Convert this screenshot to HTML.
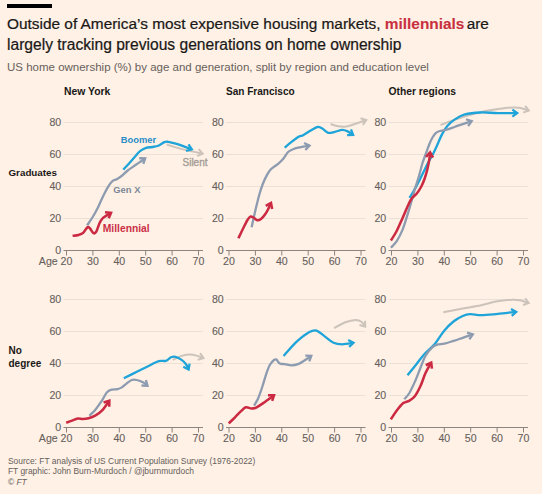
<!DOCTYPE html>
<html><head><meta charset="utf-8"><style>
html,body{margin:0;padding:0;background:#fff1e5;}
body{width:542px;height:494px;overflow:hidden;position:relative;font-family:"Liberation Sans",sans-serif;}
svg{position:absolute;left:0;top:0;}
.yl{font-family:"Liberation Sans",sans-serif;font-size:10.6px;fill:#66605c;stroke:#66605c;stroke-width:0.1px;}
.t{font-family:"Liberation Sans",sans-serif;}
</style></head><body>
<svg width="542" height="494" viewBox="0 0 542 494">
<rect x="0" y="0" width="542" height="494" fill="#fff1e5"/>
<rect x="7" y="4" width="45" height="4" fill="#000"/>
<text x="7" y="29.2" class="t" font-size="15.4" fill="#1a1817" stroke="#1a1817" stroke-width="0.22">Outside of America’s most expensive housing markets, <tspan font-weight="bold" fill="#c9303f" stroke="#c9303f" stroke-width="0.1">millennials</tspan><tspan dx="-2"> are</tspan></text>
<text x="7" y="49.6" class="t" font-size="15.6" fill="#1a1817" stroke="#1a1817" stroke-width="0.22">largely tracking previous generations on home ownership</text>
<text x="7" y="70.6" class="t" font-size="11.5" fill="#66605c">US home ownership (%) by age and generation, split by region and education level</text>
<text x="64" y="95" class="t" font-size="10.4" font-weight="bold" fill="#1a1817">New York</text>
<text x="226" y="95" class="t" font-size="10.05" font-weight="bold" fill="#1a1817">San Francisco</text>
<text x="388.5" y="95" class="t" font-size="10.3" font-weight="bold" fill="#1a1817">Other regions</text>
<text x="8.5" y="176.1" class="t" font-size="9.8" font-weight="bold" fill="#1a1817">Graduates</text>
<text x="8.5" y="353.7" class="t" font-size="10" font-weight="bold" fill="#1a1817">No</text>
<text x="8.5" y="366.6" class="t" font-size="10" font-weight="bold" fill="#1a1817">degree</text>
<line x1="63.5" x2="203" y1="218.5" y2="218.5" stroke="#ebe0d6" stroke-width="1"/>
<text x="61.2" y="222.1" text-anchor="end" class="yl">20</text>
<line x1="63.5" x2="203" y1="186.5" y2="186.5" stroke="#ebe0d6" stroke-width="1"/>
<text x="61.2" y="190.1" text-anchor="end" class="yl">40</text>
<line x1="63.5" x2="203" y1="154.5" y2="154.5" stroke="#ebe0d6" stroke-width="1"/>
<text x="61.2" y="158.1" text-anchor="end" class="yl">60</text>
<line x1="63.5" x2="203" y1="122.5" y2="122.5" stroke="#ebe0d6" stroke-width="1"/>
<text x="61.2" y="126.1" text-anchor="end" class="yl">80</text>
<line x1="63.5" x2="203" y1="250.5" y2="250.5" stroke="#8b847f" stroke-width="1"/>
<text x="61.2" y="254.1" text-anchor="end" class="yl">0</text>
<line x1="66.5" x2="66.5" y1="250.5" y2="255.5" stroke="#8b847f" stroke-width="1"/>
<text x="72.4" y="264.5" text-anchor="end" class="yl">Age 20</text>
<line x1="92.9" x2="92.9" y1="250.5" y2="255.5" stroke="#8b847f" stroke-width="1"/>
<text x="92.9" y="264.5" text-anchor="middle" class="yl">30</text>
<line x1="119.3" x2="119.3" y1="250.5" y2="255.5" stroke="#8b847f" stroke-width="1"/>
<text x="119.3" y="264.5" text-anchor="middle" class="yl">40</text>
<line x1="145.7" x2="145.7" y1="250.5" y2="255.5" stroke="#8b847f" stroke-width="1"/>
<text x="145.7" y="264.5" text-anchor="middle" class="yl">50</text>
<line x1="172.1" x2="172.1" y1="250.5" y2="255.5" stroke="#8b847f" stroke-width="1"/>
<text x="172.1" y="264.5" text-anchor="middle" class="yl">60</text>
<line x1="198.5" x2="198.5" y1="250.5" y2="255.5" stroke="#8b847f" stroke-width="1"/>
<text x="198.5" y="264.5" text-anchor="middle" class="yl">70</text>
<line x1="63.5" x2="203" y1="395.5" y2="395.5" stroke="#ebe0d6" stroke-width="1"/>
<text x="61.2" y="399.1" text-anchor="end" class="yl">20</text>
<line x1="63.5" x2="203" y1="363.5" y2="363.5" stroke="#ebe0d6" stroke-width="1"/>
<text x="61.2" y="367.1" text-anchor="end" class="yl">40</text>
<line x1="63.5" x2="203" y1="331.5" y2="331.5" stroke="#ebe0d6" stroke-width="1"/>
<text x="61.2" y="335.1" text-anchor="end" class="yl">60</text>
<line x1="63.5" x2="203" y1="299.5" y2="299.5" stroke="#ebe0d6" stroke-width="1"/>
<text x="61.2" y="303.1" text-anchor="end" class="yl">80</text>
<line x1="63.5" x2="203" y1="427.5" y2="427.5" stroke="#8b847f" stroke-width="1"/>
<text x="61.2" y="431.1" text-anchor="end" class="yl">0</text>
<line x1="66.5" x2="66.5" y1="427.5" y2="432.5" stroke="#8b847f" stroke-width="1"/>
<text x="72.4" y="441.5" text-anchor="end" class="yl">Age 20</text>
<line x1="92.9" x2="92.9" y1="427.5" y2="432.5" stroke="#8b847f" stroke-width="1"/>
<text x="92.9" y="441.5" text-anchor="middle" class="yl">30</text>
<line x1="119.3" x2="119.3" y1="427.5" y2="432.5" stroke="#8b847f" stroke-width="1"/>
<text x="119.3" y="441.5" text-anchor="middle" class="yl">40</text>
<line x1="145.7" x2="145.7" y1="427.5" y2="432.5" stroke="#8b847f" stroke-width="1"/>
<text x="145.7" y="441.5" text-anchor="middle" class="yl">50</text>
<line x1="172.1" x2="172.1" y1="427.5" y2="432.5" stroke="#8b847f" stroke-width="1"/>
<text x="172.1" y="441.5" text-anchor="middle" class="yl">60</text>
<line x1="198.5" x2="198.5" y1="427.5" y2="432.5" stroke="#8b847f" stroke-width="1"/>
<text x="198.5" y="441.5" text-anchor="middle" class="yl">70</text>
<line x1="226" x2="365.5" y1="218.5" y2="218.5" stroke="#ebe0d6" stroke-width="1"/>
<text x="223.7" y="222.1" text-anchor="end" class="yl">20</text>
<line x1="226" x2="365.5" y1="186.5" y2="186.5" stroke="#ebe0d6" stroke-width="1"/>
<text x="223.7" y="190.1" text-anchor="end" class="yl">40</text>
<line x1="226" x2="365.5" y1="154.5" y2="154.5" stroke="#ebe0d6" stroke-width="1"/>
<text x="223.7" y="158.1" text-anchor="end" class="yl">60</text>
<line x1="226" x2="365.5" y1="122.5" y2="122.5" stroke="#ebe0d6" stroke-width="1"/>
<text x="223.7" y="126.1" text-anchor="end" class="yl">80</text>
<line x1="226" x2="365.5" y1="250.5" y2="250.5" stroke="#8b847f" stroke-width="1"/>
<text x="223.7" y="254.1" text-anchor="end" class="yl">0</text>
<line x1="229" x2="229" y1="250.5" y2="255.5" stroke="#8b847f" stroke-width="1"/>
<text x="229" y="264.5" text-anchor="middle" class="yl">20</text>
<line x1="255.4" x2="255.4" y1="250.5" y2="255.5" stroke="#8b847f" stroke-width="1"/>
<text x="255.4" y="264.5" text-anchor="middle" class="yl">30</text>
<line x1="281.8" x2="281.8" y1="250.5" y2="255.5" stroke="#8b847f" stroke-width="1"/>
<text x="281.8" y="264.5" text-anchor="middle" class="yl">40</text>
<line x1="308.2" x2="308.2" y1="250.5" y2="255.5" stroke="#8b847f" stroke-width="1"/>
<text x="308.2" y="264.5" text-anchor="middle" class="yl">50</text>
<line x1="334.6" x2="334.6" y1="250.5" y2="255.5" stroke="#8b847f" stroke-width="1"/>
<text x="334.6" y="264.5" text-anchor="middle" class="yl">60</text>
<line x1="361" x2="361" y1="250.5" y2="255.5" stroke="#8b847f" stroke-width="1"/>
<text x="361" y="264.5" text-anchor="middle" class="yl">70</text>
<line x1="226" x2="365.5" y1="395.5" y2="395.5" stroke="#ebe0d6" stroke-width="1"/>
<text x="223.7" y="399.1" text-anchor="end" class="yl">20</text>
<line x1="226" x2="365.5" y1="363.5" y2="363.5" stroke="#ebe0d6" stroke-width="1"/>
<text x="223.7" y="367.1" text-anchor="end" class="yl">40</text>
<line x1="226" x2="365.5" y1="331.5" y2="331.5" stroke="#ebe0d6" stroke-width="1"/>
<text x="223.7" y="335.1" text-anchor="end" class="yl">60</text>
<line x1="226" x2="365.5" y1="299.5" y2="299.5" stroke="#ebe0d6" stroke-width="1"/>
<text x="223.7" y="303.1" text-anchor="end" class="yl">80</text>
<line x1="226" x2="365.5" y1="427.5" y2="427.5" stroke="#8b847f" stroke-width="1"/>
<text x="223.7" y="431.1" text-anchor="end" class="yl">0</text>
<line x1="229" x2="229" y1="427.5" y2="432.5" stroke="#8b847f" stroke-width="1"/>
<text x="229" y="441.5" text-anchor="middle" class="yl">20</text>
<line x1="255.4" x2="255.4" y1="427.5" y2="432.5" stroke="#8b847f" stroke-width="1"/>
<text x="255.4" y="441.5" text-anchor="middle" class="yl">30</text>
<line x1="281.8" x2="281.8" y1="427.5" y2="432.5" stroke="#8b847f" stroke-width="1"/>
<text x="281.8" y="441.5" text-anchor="middle" class="yl">40</text>
<line x1="308.2" x2="308.2" y1="427.5" y2="432.5" stroke="#8b847f" stroke-width="1"/>
<text x="308.2" y="441.5" text-anchor="middle" class="yl">50</text>
<line x1="334.6" x2="334.6" y1="427.5" y2="432.5" stroke="#8b847f" stroke-width="1"/>
<text x="334.6" y="441.5" text-anchor="middle" class="yl">60</text>
<line x1="361" x2="361" y1="427.5" y2="432.5" stroke="#8b847f" stroke-width="1"/>
<text x="361" y="441.5" text-anchor="middle" class="yl">70</text>
<line x1="388.5" x2="528" y1="218.5" y2="218.5" stroke="#ebe0d6" stroke-width="1"/>
<text x="386.2" y="222.1" text-anchor="end" class="yl">20</text>
<line x1="388.5" x2="528" y1="186.5" y2="186.5" stroke="#ebe0d6" stroke-width="1"/>
<text x="386.2" y="190.1" text-anchor="end" class="yl">40</text>
<line x1="388.5" x2="528" y1="154.5" y2="154.5" stroke="#ebe0d6" stroke-width="1"/>
<text x="386.2" y="158.1" text-anchor="end" class="yl">60</text>
<line x1="388.5" x2="528" y1="122.5" y2="122.5" stroke="#ebe0d6" stroke-width="1"/>
<text x="386.2" y="126.1" text-anchor="end" class="yl">80</text>
<line x1="388.5" x2="528" y1="250.5" y2="250.5" stroke="#8b847f" stroke-width="1"/>
<text x="386.2" y="254.1" text-anchor="end" class="yl">0</text>
<line x1="391.5" x2="391.5" y1="250.5" y2="255.5" stroke="#8b847f" stroke-width="1"/>
<text x="391.5" y="264.5" text-anchor="middle" class="yl">20</text>
<line x1="417.9" x2="417.9" y1="250.5" y2="255.5" stroke="#8b847f" stroke-width="1"/>
<text x="417.9" y="264.5" text-anchor="middle" class="yl">30</text>
<line x1="444.3" x2="444.3" y1="250.5" y2="255.5" stroke="#8b847f" stroke-width="1"/>
<text x="444.3" y="264.5" text-anchor="middle" class="yl">40</text>
<line x1="470.7" x2="470.7" y1="250.5" y2="255.5" stroke="#8b847f" stroke-width="1"/>
<text x="470.7" y="264.5" text-anchor="middle" class="yl">50</text>
<line x1="497.1" x2="497.1" y1="250.5" y2="255.5" stroke="#8b847f" stroke-width="1"/>
<text x="497.1" y="264.5" text-anchor="middle" class="yl">60</text>
<line x1="523.5" x2="523.5" y1="250.5" y2="255.5" stroke="#8b847f" stroke-width="1"/>
<text x="523.5" y="264.5" text-anchor="middle" class="yl">70</text>
<line x1="388.5" x2="528" y1="395.5" y2="395.5" stroke="#ebe0d6" stroke-width="1"/>
<text x="386.2" y="399.1" text-anchor="end" class="yl">20</text>
<line x1="388.5" x2="528" y1="363.5" y2="363.5" stroke="#ebe0d6" stroke-width="1"/>
<text x="386.2" y="367.1" text-anchor="end" class="yl">40</text>
<line x1="388.5" x2="528" y1="331.5" y2="331.5" stroke="#ebe0d6" stroke-width="1"/>
<text x="386.2" y="335.1" text-anchor="end" class="yl">60</text>
<line x1="388.5" x2="528" y1="299.5" y2="299.5" stroke="#ebe0d6" stroke-width="1"/>
<text x="386.2" y="303.1" text-anchor="end" class="yl">80</text>
<line x1="388.5" x2="528" y1="427.5" y2="427.5" stroke="#8b847f" stroke-width="1"/>
<text x="386.2" y="431.1" text-anchor="end" class="yl">0</text>
<line x1="391.5" x2="391.5" y1="427.5" y2="432.5" stroke="#8b847f" stroke-width="1"/>
<text x="391.5" y="441.5" text-anchor="middle" class="yl">20</text>
<line x1="417.9" x2="417.9" y1="427.5" y2="432.5" stroke="#8b847f" stroke-width="1"/>
<text x="417.9" y="441.5" text-anchor="middle" class="yl">30</text>
<line x1="444.3" x2="444.3" y1="427.5" y2="432.5" stroke="#8b847f" stroke-width="1"/>
<text x="444.3" y="441.5" text-anchor="middle" class="yl">40</text>
<line x1="470.7" x2="470.7" y1="427.5" y2="432.5" stroke="#8b847f" stroke-width="1"/>
<text x="470.7" y="441.5" text-anchor="middle" class="yl">50</text>
<line x1="497.1" x2="497.1" y1="427.5" y2="432.5" stroke="#8b847f" stroke-width="1"/>
<text x="497.1" y="441.5" text-anchor="middle" class="yl">60</text>
<line x1="523.5" x2="523.5" y1="427.5" y2="432.5" stroke="#8b847f" stroke-width="1"/>
<text x="523.5" y="441.5" text-anchor="middle" class="yl">70</text>
<path d="M166.8,144.5 C168.42,145.02 172.85,146.58 176.5,147.6 C180.15,148.62 184.33,149.58 188.7,150.6 C193.07,151.62 200.37,153.18 202.7,153.7" fill="none" stroke="#ccc3bb" stroke-width="2.0" stroke-linecap="butt" stroke-linejoin="round"/>
<path d="M198.72,149.21 L202.7,153.7 L197.2,156.09" fill="none" stroke="#ccc3bb" stroke-width="2.0" stroke-linecap="butt" stroke-linejoin="miter" stroke-miterlimit="10"/>
<path d="M123.3,169.6 C124.33,168.48 127.38,165.25 129.5,162.9 C131.62,160.55 134.25,157.45 136,155.5 C137.75,153.55 138.32,152.47 140,151.2 C141.68,149.93 144.07,148.6 146.1,147.9 C148.13,147.2 150.17,147.37 152.2,147 C154.23,146.63 156.27,146.52 158.3,145.7 C160.33,144.88 162.78,142.75 164.4,142.1 C166.02,141.45 165.98,141.5 168,141.8 C170.02,142.1 173.87,143.13 176.5,143.9 C179.13,144.67 181.25,145.48 183.8,146.4 C186.35,147.32 190.47,148.9 191.8,149.4" fill="none" stroke="#1ea4d9" stroke-width="2.3" stroke-linecap="butt" stroke-linejoin="round"/>
<path d="M188.49,144.39 L191.8,149.4 L186.02,151" fill="none" stroke="#1ea4d9" stroke-width="2.3" stroke-linecap="butt" stroke-linejoin="miter" stroke-miterlimit="10"/>
<path d="M87.1,225.4 C88.03,224 90.85,220.08 92.7,217 C94.55,213.92 96.37,210.58 98.2,206.9 C100.03,203.22 101.85,198.58 103.7,194.9 C105.55,191.22 107.75,187.17 109.3,184.8 C110.85,182.43 111.77,181.63 113,180.7 C114.23,179.77 115.17,180.07 116.7,179.2 C118.23,178.33 120.37,176.95 122.2,175.5 C124.03,174.05 125.87,171.98 127.7,170.5 C129.53,169.02 131.37,167.87 133.2,166.6 C135.03,165.33 136.7,164.28 138.7,162.9 C140.7,161.52 144.12,159.07 145.2,158.3" fill="none" stroke="#8d9bb0" stroke-width="2.3" stroke-linecap="butt" stroke-linejoin="round"/>
<path d="M139.2,158.23 L145.2,158.3 L143.28,163.98" fill="none" stroke="#8d9bb0" stroke-width="2.3" stroke-linecap="butt" stroke-linejoin="miter" stroke-miterlimit="10"/>
<path d="M72.6,235.8 C73.58,235.65 76.75,235.38 78.5,234.9 C80.25,234.42 81.62,234.17 83.1,232.9 C84.58,231.63 86.25,228.03 87.4,227.3 C88.55,226.57 88.98,227.52 90,228.5 C91.02,229.48 92.45,232.68 93.5,233.2 C94.55,233.72 95.28,233.3 96.3,231.6 C97.32,229.9 98.5,225.27 99.6,223 C100.7,220.73 101.77,219.23 102.9,218 C104.03,216.77 105.05,216.47 106.4,215.6 C107.75,214.73 110.23,213.27 111,212.8" fill="none" stroke="#cb2a42" stroke-width="2.55" stroke-linecap="butt" stroke-linejoin="round"/>
<path d="M105.02,212.31 L111,212.8 L108.69,218.34" fill="none" stroke="#cb2a42" stroke-width="2.55" stroke-linecap="butt" stroke-linejoin="miter" stroke-miterlimit="10"/>
<path d="M330.6,124 C331.85,124.38 335.47,125.87 338.1,126.3 C340.73,126.73 343.63,126.98 346.4,126.6 C349.17,126.22 351.38,125.1 354.7,124 C358.02,122.9 364.37,120.67 366.3,120" fill="none" stroke="#ccc3bb" stroke-width="2.0" stroke-linecap="butt" stroke-linejoin="round"/>
<path d="M360.56,118.25 L366.3,120 L362.86,124.92" fill="none" stroke="#ccc3bb" stroke-width="2.0" stroke-linecap="butt" stroke-linejoin="miter" stroke-miterlimit="10"/>
<path d="M284.6,147.7 C285.77,146.73 289.18,143.75 291.6,141.9 C294.02,140.05 297.17,137.72 299.1,136.6 C301.03,135.48 301.4,136.12 303.2,135.2 C305,134.28 307.53,132.47 309.9,131.1 C312.27,129.73 315.33,127.42 317.4,127 C319.47,126.58 320.5,127.63 322.3,128.6 C324.1,129.57 326.12,132.25 328.2,132.8 C330.28,133.35 332.45,132.38 334.8,131.9 C337.15,131.42 340.08,129.95 342.3,129.9 C344.52,129.85 346.3,130.77 348.1,131.6 C349.9,132.43 352.27,134.35 353.1,134.9" fill="none" stroke="#1ea4d9" stroke-width="2.3" stroke-linecap="butt" stroke-linejoin="round"/>
<path d="M350.99,129.28 L353.1,134.9 L347.11,135.17" fill="none" stroke="#1ea4d9" stroke-width="2.3" stroke-linecap="butt" stroke-linejoin="miter" stroke-miterlimit="10"/>
<path d="M251.6,227.2 C252.23,224.37 254.08,215.73 255.4,210.2 C256.72,204.67 258.27,198.37 259.5,194 C260.73,189.63 261.57,187.15 262.8,184 C264.03,180.85 265.52,177.6 266.9,175.1 C268.28,172.6 269.28,170.83 271.1,169 C272.92,167.17 275.77,165.82 277.8,164.1 C279.83,162.38 281.58,160.72 283.3,158.7 C285.02,156.68 286.38,153.62 288.1,152 C289.82,150.38 291.62,149.78 293.6,149 C295.58,148.22 297.35,147.87 300,147.3 C302.65,146.73 307.92,145.88 309.5,145.6" fill="none" stroke="#8d9bb0" stroke-width="2.3" stroke-linecap="butt" stroke-linejoin="round"/>
<path d="M304.1,142.98 L309.5,145.6 L305.34,149.93" fill="none" stroke="#8d9bb0" stroke-width="2.3" stroke-linecap="butt" stroke-linejoin="miter" stroke-miterlimit="10"/>
<path d="M238.4,238.3 C239.28,236.45 242.18,230.25 243.7,227.2 C245.22,224.15 246.4,221.77 247.5,220 C248.6,218.23 249.3,217.02 250.3,216.6 C251.3,216.18 252.38,216.9 253.5,217.5 C254.62,218.1 255.75,219.95 257,220.2 C258.25,220.45 259.67,219.95 261,219 C262.33,218.05 263.83,216.08 265,214.5 C266.17,212.92 267,211.42 268,209.5 C269,207.58 270.5,204.08 271,203" fill="none" stroke="#cb2a42" stroke-width="2.55" stroke-linecap="butt" stroke-linejoin="round"/>
<path d="M265.76,205.93 L271,203 L272.17,208.89" fill="none" stroke="#cb2a42" stroke-width="2.55" stroke-linecap="butt" stroke-linejoin="miter" stroke-miterlimit="10"/>
<path d="M440.5,125.1 C442.62,124.3 448.5,121.92 453.2,120.3 C457.9,118.68 462.88,117.02 468.7,115.4 C474.52,113.78 481.63,111.88 488.1,110.6 C494.57,109.32 502.33,108.18 507.5,107.7 C512.67,107.22 515.55,107.22 519.1,107.7 C522.65,108.18 527.18,110.12 528.8,110.6" fill="none" stroke="#ccc3bb" stroke-width="2.0" stroke-linecap="butt" stroke-linejoin="round"/>
<path d="M525.16,105.83 L528.8,110.6 L523.14,112.59" fill="none" stroke="#ccc3bb" stroke-width="2.0" stroke-linecap="butt" stroke-linejoin="miter" stroke-miterlimit="10"/>
<path d="M409.5,197.9 C410,197.08 411.3,195.05 412.5,193 C413.7,190.95 415.07,188.68 416.7,185.6 C418.33,182.52 420.45,178.2 422.3,174.5 C424.15,170.8 425.95,166.93 427.8,163.4 C429.65,159.87 431.9,156.2 433.4,153.3 C434.9,150.4 435.37,149.15 436.8,146 C438.23,142.85 440.28,137.7 442,134.4 C443.72,131.1 445.02,128.67 447.1,126.2 C449.18,123.73 451.53,121.57 454.5,119.6 C457.47,117.63 460.58,115.58 464.9,114.4 C469.22,113.22 474.92,112.72 480.4,112.5 C485.88,112.28 491.67,113 497.8,113.1 C503.93,113.2 513.97,113.1 517.2,113.1" fill="none" stroke="#1ea4d9" stroke-width="2.3" stroke-linecap="butt" stroke-linejoin="round"/>
<path d="M512.35,109.57 L517.2,113.1 L512.35,116.63" fill="none" stroke="#1ea4d9" stroke-width="2.3" stroke-linecap="butt" stroke-linejoin="miter" stroke-miterlimit="10"/>
<path d="M390.9,247.8 C391.87,246.7 394.75,244.23 396.7,241.2 C398.65,238.17 400.88,233.73 402.6,229.6 C404.32,225.47 405.55,221.02 407,216.4 C408.45,211.78 409.97,206.52 411.3,201.9 C412.63,197.28 413.72,193.02 415,188.7 C416.28,184.38 417.75,180.28 419,176 C420.25,171.72 421.25,167 422.5,163 C423.75,159 425.35,155.17 426.5,152 C427.65,148.83 428.4,146.42 429.4,144 C430.4,141.58 431.4,139.35 432.5,137.5 C433.6,135.65 434.78,133.98 436,132.9 C437.22,131.82 438.18,131.5 439.8,131 C441.42,130.5 443.25,130.57 445.7,129.9 C448.15,129.23 451.3,128.1 454.5,127 C457.7,125.9 462.03,124.27 464.9,123.3 C467.77,122.33 470.57,121.55 471.7,121.2" fill="none" stroke="#8d9bb0" stroke-width="2.3" stroke-linecap="butt" stroke-linejoin="round"/>
<path d="M466.02,119.26 L471.7,121.2 L468.1,126" fill="none" stroke="#8d9bb0" stroke-width="2.3" stroke-linecap="butt" stroke-linejoin="miter" stroke-miterlimit="10"/>
<path d="M390.9,240.5 C391.87,238.92 394.75,234.77 396.7,231 C398.65,227.23 400.88,221.78 402.6,217.9 C404.32,214.02 405.57,210.82 407,207.7 C408.43,204.58 409.53,201.62 411.2,199.2 C412.87,196.78 415.32,195.32 417,193.2 C418.68,191.08 420.05,188.87 421.3,186.5 C422.55,184.13 423.5,181.83 424.5,179 C425.5,176.17 426.5,172.75 427.3,169.5 C428.1,166.25 428.83,162.33 429.3,159.5 C429.77,156.67 429.97,153.67 430.1,152.5" fill="none" stroke="#cb2a42" stroke-width="2.55" stroke-linecap="butt" stroke-linejoin="round"/>
<path d="M426.04,156.92 L430.1,152.5 L433.05,157.72" fill="none" stroke="#cb2a42" stroke-width="2.55" stroke-linecap="butt" stroke-linejoin="miter" stroke-miterlimit="10"/>
<path d="M172.8,359.9 C174.27,359.23 178.67,356.78 181.6,355.9 C184.53,355.02 187.77,354.6 190.4,354.6 C193.03,354.6 195.22,355.32 197.4,355.9 C199.58,356.48 202.48,357.73 203.5,358.1" fill="none" stroke="#ccc3bb" stroke-width="2.0" stroke-linecap="butt" stroke-linejoin="round"/>
<path d="M200.13,353.14 L203.5,358.1 L197.74,359.77" fill="none" stroke="#ccc3bb" stroke-width="2.0" stroke-linecap="butt" stroke-linejoin="miter" stroke-miterlimit="10"/>
<path d="M123.8,378.3 C126.13,377.13 133.42,373.48 137.8,371.3 C142.18,369.12 146.6,366.9 150.1,365.2 C153.6,363.5 156.18,361.83 158.8,361.1 C161.42,360.37 163.75,361.43 165.8,360.8 C167.85,360.17 169.48,357.95 171.1,357.3 C172.72,356.65 173.75,356.47 175.5,356.9 C177.25,357.33 179.85,358.67 181.6,359.9 C183.35,361.13 184.83,362.7 186,364.3 C187.17,365.9 188.17,368.63 188.6,369.5" fill="none" stroke="#1ea4d9" stroke-width="2.3" stroke-linecap="butt" stroke-linejoin="round"/>
<path d="M189.58,363.58 L188.6,369.5 L183.27,366.74" fill="none" stroke="#1ea4d9" stroke-width="2.3" stroke-linecap="butt" stroke-linejoin="miter" stroke-miterlimit="10"/>
<path d="M89.4,415.7 C90.37,414.73 93.12,412.4 95.2,409.9 C97.28,407.4 99.97,403.62 101.9,400.7 C103.83,397.78 105.15,394.25 106.8,392.4 C108.45,390.55 110,390.15 111.8,389.6 C113.6,389.05 115.93,389.47 117.6,389.1 C119.27,388.73 120.27,388.37 121.8,387.4 C123.33,386.43 125.15,384.53 126.8,383.3 C128.45,382.07 130.05,380.55 131.7,380 C133.35,379.45 134.75,379.58 136.7,380 C138.65,380.42 141.6,381.53 143.4,382.5 C145.2,383.47 146.82,385.25 147.5,385.8" fill="none" stroke="#8d9bb0" stroke-width="2.3" stroke-linecap="butt" stroke-linejoin="round"/>
<path d="M145.93,380.01 L147.5,385.8 L141.51,385.5" fill="none" stroke="#8d9bb0" stroke-width="2.3" stroke-linecap="butt" stroke-linejoin="miter" stroke-miterlimit="10"/>
<path d="M66.2,422.8 C67.17,422.43 70.07,421.32 72,420.6 C73.93,419.88 76,418.77 77.8,418.5 C79.6,418.23 81,419.05 82.8,419 C84.6,418.95 86.53,418.75 88.6,418.2 C90.67,417.65 92.98,416.95 95.2,415.7 C97.42,414.45 99.55,413.2 101.9,410.7 C104.25,408.2 108.07,402.37 109.3,400.7" fill="none" stroke="#cb2a42" stroke-width="2.55" stroke-linecap="butt" stroke-linejoin="round"/>
<path d="M103.58,402.5 L109.3,400.7 L109.25,406.7" fill="none" stroke="#cb2a42" stroke-width="2.55" stroke-linecap="butt" stroke-linejoin="miter" stroke-miterlimit="10"/>
<path d="M334.1,328.2 C335.97,327.22 341.73,323.68 345.3,322.3 C348.87,320.92 352.82,320 355.5,319.9 C358.18,319.8 359.78,320.57 361.4,321.7 C363.02,322.83 364.57,325.87 365.2,326.7" fill="none" stroke="#ccc3bb" stroke-width="2.0" stroke-linecap="butt" stroke-linejoin="round"/>
<path d="M365.07,320.7 L365.2,326.7 L359.46,324.97" fill="none" stroke="#ccc3bb" stroke-width="2.0" stroke-linecap="butt" stroke-linejoin="miter" stroke-miterlimit="10"/>
<path d="M283.6,356 C285.57,353.8 291.48,346.57 295.4,342.8 C299.32,339.03 303.68,335.45 307.1,333.4 C310.52,331.35 312.97,330 315.9,330.5 C318.83,331 321.77,334.35 324.7,336.4 C327.63,338.45 330.57,341.48 333.5,342.8 C336.43,344.12 338.97,344.3 342.3,344.3 C345.63,344.3 351.63,343.05 353.5,342.8" fill="none" stroke="#1ea4d9" stroke-width="2.3" stroke-linecap="butt" stroke-linejoin="round"/>
<path d="M348.22,339.95 L353.5,342.8 L349.16,346.94" fill="none" stroke="#1ea4d9" stroke-width="2.3" stroke-linecap="butt" stroke-linejoin="miter" stroke-miterlimit="10"/>
<path d="M254.1,405.6 C254.78,404.37 256.82,401.38 258.2,398.2 C259.58,395.02 261.02,390.67 262.4,386.5 C263.78,382.33 265.27,376.78 266.5,373.2 C267.73,369.62 268.55,367.2 269.8,365 C271.05,362.8 272.88,360.9 274,360 C275.12,359.1 275.53,359 276.5,359.6 C277.47,360.2 278.42,362.85 279.8,363.6 C281.18,364.35 282.87,363.82 284.8,364.1 C286.73,364.38 289.18,365.3 291.4,365.3 C293.62,365.3 295.88,364.93 298.1,364.1 C300.32,363.27 302.5,361.68 304.7,360.3 C306.9,358.92 310.2,356.55 311.3,355.8" fill="none" stroke="#8d9bb0" stroke-width="2.3" stroke-linecap="butt" stroke-linejoin="round"/>
<path d="M305.3,355.62 L311.3,355.8 L309.28,361.45" fill="none" stroke="#8d9bb0" stroke-width="2.3" stroke-linecap="butt" stroke-linejoin="miter" stroke-miterlimit="10"/>
<path d="M228.7,423.4 C229.75,422.38 232.98,419.3 235,417.3 C237.02,415.3 239,413.07 240.8,411.4 C242.6,409.73 244,407.78 245.8,407.3 C247.6,406.82 249.8,408.5 251.6,408.5 C253.4,408.5 254.67,408.2 256.6,407.3 C258.53,406.4 260.3,405.12 263.2,403.1 C266.1,401.08 272.2,396.52 274,395.2" fill="none" stroke="#cb2a42" stroke-width="2.55" stroke-linecap="butt" stroke-linejoin="round"/>
<path d="M268,395.22 L274,395.2 L272.16,400.91" fill="none" stroke="#cb2a42" stroke-width="2.55" stroke-linecap="butt" stroke-linejoin="miter" stroke-miterlimit="10"/>
<path d="M443.3,312.3 C446.53,311.68 456.4,309.77 462.7,308.6 C469,307.43 475.57,306.47 481.1,305.3 C486.63,304.13 490.67,302.53 495.9,301.6 C501.13,300.67 508.5,299.92 512.5,299.7 C516.5,299.48 517.2,299.73 519.9,300.3 C522.6,300.87 527.23,302.63 528.7,303.1" fill="none" stroke="#ccc3bb" stroke-width="2.0" stroke-linecap="butt" stroke-linejoin="round"/>
<path d="M525.14,298.27 L528.7,303.1 L523.01,304.99" fill="none" stroke="#ccc3bb" stroke-width="2.0" stroke-linecap="butt" stroke-linejoin="miter" stroke-miterlimit="10"/>
<path d="M407.5,375.2 C409.05,373.28 413.97,367.23 416.8,363.7 C419.63,360.17 421.47,357.33 424.5,354 C427.53,350.67 431.72,347.58 435,343.7 C438.28,339.82 441.12,334.4 444.2,330.7 C447.28,327 450.42,323.95 453.5,321.5 C456.58,319.05 459.95,317.23 462.7,316 C465.45,314.77 466.93,314.25 470,314.1 C473.07,313.95 476.78,315.1 481.1,315.1 C485.42,315.1 491.28,314.5 495.9,314.1 C500.52,313.7 505.42,313.07 508.8,312.7 C512.18,312.33 514.97,312.03 516.2,311.9" fill="none" stroke="#1ea4d9" stroke-width="2.3" stroke-linecap="butt" stroke-linejoin="round"/>
<path d="M510.99,308.92 L516.2,311.9 L511.75,315.93" fill="none" stroke="#1ea4d9" stroke-width="2.3" stroke-linecap="butt" stroke-linejoin="miter" stroke-miterlimit="10"/>
<path d="M404.3,399.2 C405.1,398.25 407.35,396.38 409.1,393.5 C410.85,390.62 412.88,386.23 414.8,381.9 C416.72,377.57 418.83,371.82 420.6,367.5 C422.37,363.18 423.47,359.37 425.4,356 C427.33,352.63 430.12,349.23 432.2,347.3 C434.28,345.37 435.9,345 437.9,344.4 C439.9,343.8 441.6,344.28 444.2,343.7 C446.8,343.12 450.42,341.88 453.5,340.9 C456.58,339.92 459.48,338.88 462.7,337.8 C465.92,336.72 471.12,334.97 472.8,334.4" fill="none" stroke="#8d9bb0" stroke-width="2.3" stroke-linecap="butt" stroke-linejoin="round"/>
<path d="M467.07,332.61 L472.8,334.4 L469.32,339.29" fill="none" stroke="#8d9bb0" stroke-width="2.3" stroke-linecap="butt" stroke-linejoin="miter" stroke-miterlimit="10"/>
<path d="M390.8,419.4 C391.77,417.97 394.52,413.52 396.6,410.8 C398.68,408.08 401.22,404.77 403.3,403.1 C405.38,401.43 407.18,401.93 409.1,400.8 C411.02,399.67 412.88,398.8 414.8,396.3 C416.72,393.8 418.83,389.63 420.6,385.8 C422.37,381.97 423.63,377.15 425.4,373.3 C427.17,369.45 430.23,364.47 431.2,362.7" fill="none" stroke="#cb2a42" stroke-width="2.55" stroke-linecap="butt" stroke-linejoin="round"/>
<path d="M425.78,365.27 L431.2,362.7 L431.96,368.65" fill="none" stroke="#cb2a42" stroke-width="2.55" stroke-linecap="butt" stroke-linejoin="miter" stroke-miterlimit="10"/>
<text x="120.7" y="143.1" class="t" font-size="9.4" font-weight="bold" fill="#2a8dc8">Boomer</text>
<text x="182.5" y="165.6" class="t" font-size="10" fill="#a59d96" stroke="#a59d96" stroke-width="0.35">Silent</text>
<text x="113.3" y="193.4" class="t" font-size="9.4" font-weight="bold" fill="#7c8797">Gen X</text>
<text x="102.8" y="232.4" class="t" font-size="10.3" font-weight="bold" fill="#cb2f45">Millennial</text>
<text x="7.9" y="463.9" class="t" font-size="8.45" fill="#66605c">Source: FT analysis of US Current Population Survey (1976-2022)</text>
<text x="7.9" y="474.3" class="t" font-size="8.45" fill="#66605c">FT graphic: John Burn-Murdoch / @jburnmurdoch</text>
<text x="7.9" y="484.5" class="t" font-size="8.45" fill="#66605c">© <tspan font-style="italic">FT</tspan></text>
</svg>
</body></html>
